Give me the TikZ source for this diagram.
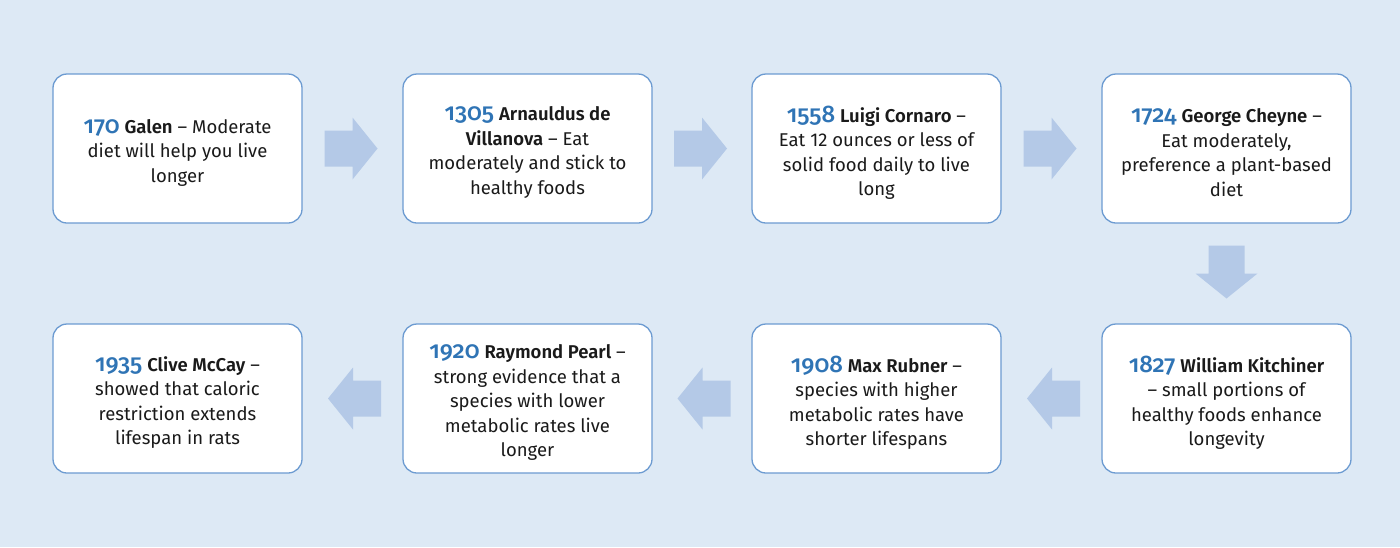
\documentclass[tikz,border=0pt]{standalone}
\usepackage{fontspec}
\setmainfont{Fira Sans}[BoldFont={* SemiBold}]
\newfontfamily\yearfont{Fira Sans}[UprightFont={* Medium},Numbers=OldStyle]
\usetikzlibrary{calc}
\definecolor{bg}{HTML}{DDE9F5}
\definecolor{boxline}{HTML}{6C9BD1}
\definecolor{arrowfill}{HTML}{B4C9E7}
\definecolor{yearblue}{HTML}{2F74B5}
\definecolor{txt}{HTML}{1A1A1A}
\newcommand\yr[1]{{\color{yearblue}\yearfont\fontsize{24}{24.5}\selectfont #1}}
\tikzset{
  eventbox/.style={draw=boxline, line width=1.3pt, fill=white, rounded corners=14pt,
    minimum width=249pt, minimum height=149pt, inner sep=0pt},
  eventtext/.style={align=center, inner sep=0pt, text=txt,
    font=\fontsize{18.5}{24.5}\selectfont},
  blockarrow/.pic={\fill[arrowfill] (-26.5,-18) -- (1.5,-18) -- (1.5,-31) -- (26.5,0)
    -- (1.5,31) -- (1.5,18) -- (-26.5,18) -- cycle;}
}
\begin{document}
\begin{tikzpicture}[x=1pt,y=-1pt]
\fill[bg] (0,0) rectangle (1400,547);
\useasboundingbox (0,0) rectangle (1400,547);
% boxes
\node[eventbox] (b1) at (177.5,148.5) {};
\node[eventbox] (b2) at (527.5,148.5) {};
\node[eventbox] (b3) at (876.5,148.5) {};
\node[eventbox] (b4) at (1226.5,148.5) {};
\node[eventbox] (b5) at (1226.5,398.5) {};
\node[eventbox] (b6) at (876.5,398.5) {};
\node[eventbox] (b7) at (527.5,398.5) {};
\node[eventbox] (b8) at (177.5,398.5) {};
% texts
\node[eventtext] (t1) at ([yshift=-4pt]b1.center) {\yr{170} \textbf{Galen} -- Moderate\\diet will help you live\\longer};
\node[eventtext] (t2) at ([yshift=-4pt]b2.center) {\yr{1305} \textbf{Arnauldus de}\\\textbf{Villanova} -- Eat\\moderately and stick to\\healthy foods};
\node[eventtext] (t3) at ([yshift=-4pt]b3.center) {\yr{1558} \textbf{Luigi Cornaro} --\\Eat 12 ounces or less of\\solid food daily to live\\long};
\node[eventtext] (t4) at ([yshift=-4pt]b4.center) {\yr{1724} \textbf{George Cheyne} --\\Eat moderately,\\preference a plant-based\\diet};
\node[eventtext] (t5) at ([yshift=-4pt]b5.center) {\yr{1827} \textbf{William Kitchiner}\\-- small portions of\\healthy foods enhance\\longevity};
\node[eventtext] (t6) at ([yshift=-4pt]b6.center) {\yr{1908} \textbf{Max Rubner} --\\species with higher\\metabolic rates have\\shorter lifespans};
\node[eventtext] (t7) at ([yshift=-4pt]b7.center) {\yr{1920} \textbf{Raymond Pearl} --\\strong evidence that a\\species with lower\\metabolic rates live\\longer};
\node[eventtext] (t8) at ([yshift=-4pt]b8.center) {\yr{1935} \textbf{Clive McCay} --\\showed that caloric\\restriction extends\\lifespan in rats};
% arrow positions
\coordinate (m12) at ($(b1.east)!0.5!(b2.west)+(-1.5,0)$);
\coordinate (m23) at ($(b2.east)!0.5!(b3.west)+(-1.5,0)$);
\coordinate (m34) at ($(b3.east)!0.5!(b4.west)+(-1.5,0)$);
\coordinate (m45) at ($(b4.south)!0.5!(b5.north)+(0,-1.5)$);
\coordinate (m56) at ($(b5.west)!0.5!(b6.east)+(2,0)$);
\coordinate (m67) at ($(b6.west)!0.5!(b7.east)+(2,0)$);
\coordinate (m78) at ($(b7.west)!0.5!(b8.east)+(2,0)$);
\pic at (m12) {blockarrow};
\pic at (m23) {blockarrow};
\pic at (m34) {blockarrow};
\pic[rotate=-90] at (m45) {blockarrow};
\pic[rotate=180] at (m56) {blockarrow};
\pic[rotate=180] at (m67) {blockarrow};
\pic[rotate=180] at (m78) {blockarrow};
\end{tikzpicture}
\end{document}
